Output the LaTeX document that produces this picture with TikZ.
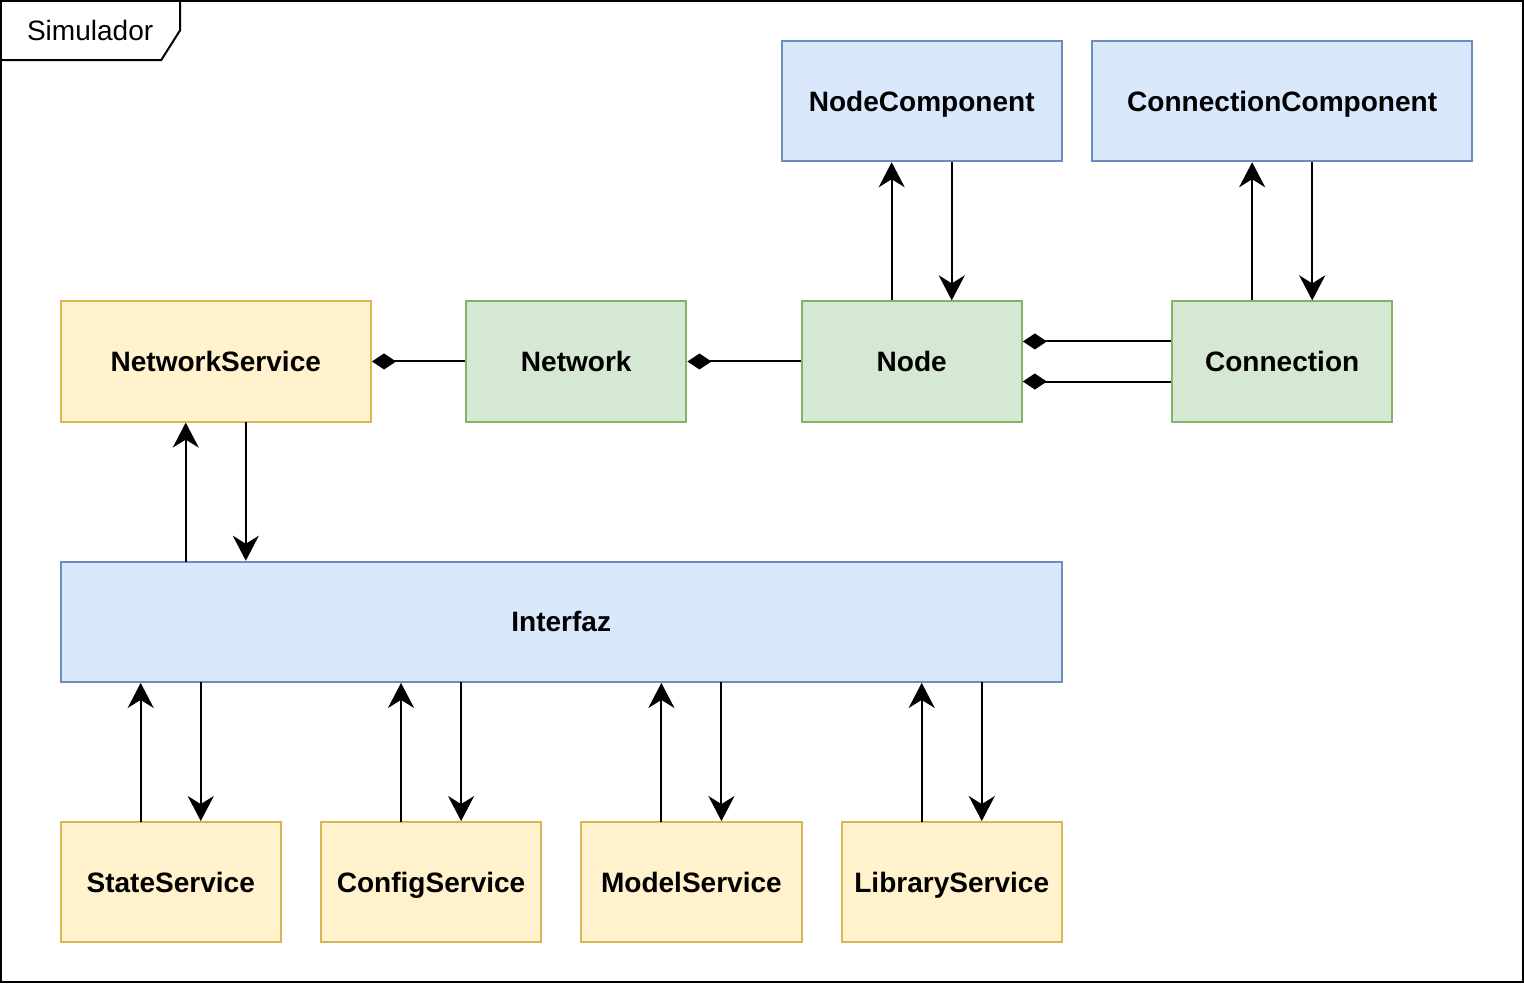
\documentclass[tikz,border=0pt]{standalone}
\usepackage{fontspec}
\setmainfont{Liberation Sans}
\usetikzlibrary{arrows.meta,positioning}

\definecolor{blueFill}{HTML}{DAE8FC}
\definecolor{blueLine}{HTML}{6C8EBF}
\definecolor{greenFill}{HTML}{D5E8D4}
\definecolor{greenLine}{HTML}{82B366}
\definecolor{yellowFill}{HTML}{FFF2CC}
\definecolor{yellowLine}{HTML}{D6B656}

\tikzset{
  box/.style={draw, line width=1pt, minimum height=60pt, inner sep=0pt,
    text height=10pt, text depth=0pt,
    font=\fontsize{14}{16}\selectfont\bfseries},
  ui/.style={box, fill=blueFill, draw=blueLine},
  model/.style={box, fill=greenFill, draw=greenLine},
  service/.style={box, fill=yellowFill, draw=yellowLine},
  call/.style={-{Stealth[length=12.5pt,width=13pt,inset=4pt]}, line width=1pt},
  part/.style={{Diamond[length=12pt,width=8pt]}-, line width=1pt},
}

\begin{document}
\begin{tikzpicture}[x=0.5pt, y=-0.5pt]
  \useasboundingbox (0,0) rectangle (1522,982);
  % frame
  \draw[line width=1pt] (1,1) rectangle (1521,981);
  \draw[line width=1pt] (1,60) -- (161,60) -- (180,30) -- (180,1);
  \node[font=\fontsize{14}{16}\selectfont] (title) at (90,30) {Simulador};

  % boxes
  \node[ui, minimum width=140pt] (nodeComp) at (920.5,101) {NodeComponent};
  \node[ui, minimum width=190pt] (connComp) at (1280.5,101) {ConnectionComponent};
  \node[service, minimum width=155pt] (netService) at (215.5,361) {NetworkService};
  \node[model, minimum width=110pt] (network) at (575.5,361) {Network};
  \node[model, minimum width=110pt] (node) at (910.5,361) {Node};
  \node[model, minimum width=110pt] (conn) at (1280.5,361) {Connection};
  \node[ui, minimum width=500pt] (ui) at (560.5,621) {Interfaz};
  \node[service, minimum width=110pt] (state) at (170.5,881) {StateService};
  \node[service, minimum width=110pt] (config) at (430.5,881) {ConfigService};
  \node[service, minimum width=110pt] (modelSrv) at (690.5,881) {ModelService};
  \node[service, minimum width=110pt] (library) at (950.5,881) {LibraryService};

  % composition
  \draw[part] (netService.east) -- (network.west);
  \draw[part] (network.east) -- (node.west);
  \draw[part] ([yshift=10pt]node.east) -- ([yshift=10pt]conn.west);
  \draw[part] ([yshift=-10pt]node.east) -- ([yshift=-10pt]conn.west);

  % calls
  \draw[call] ([xshift=-10pt]node.north) -- ([xshift=-10pt]node.north |- nodeComp.south);
  \draw[call] ([xshift=15pt]nodeComp.south) -- ([xshift=15pt]nodeComp.south |- node.north);
  \draw[call] ([xshift=-15pt]conn.north) -- ([xshift=-15pt]conn.north |- connComp.south);
  \draw[call] ([xshift=15pt]connComp.south) -- ([xshift=15pt]connComp.south |- conn.north);
  \draw[call] (185.5,561) coordinate (upA) -- (upA |- netService.south);
  \draw[call] (245.5,421) coordinate (dnA) -- (dnA |- ui.north);
  \foreach \s/\u/\d in {state/140.5/200.5, config/400.5/460.5, modelSrv/660.5/720.5, library/920.5/980.5}{
    \draw[call] (\u,821) coordinate (up) -- (up |- ui.south);
    \draw[call] (\d,681) coordinate (dn) -- (dn |- \s.north);
  }
\end{tikzpicture}
\end{document}
